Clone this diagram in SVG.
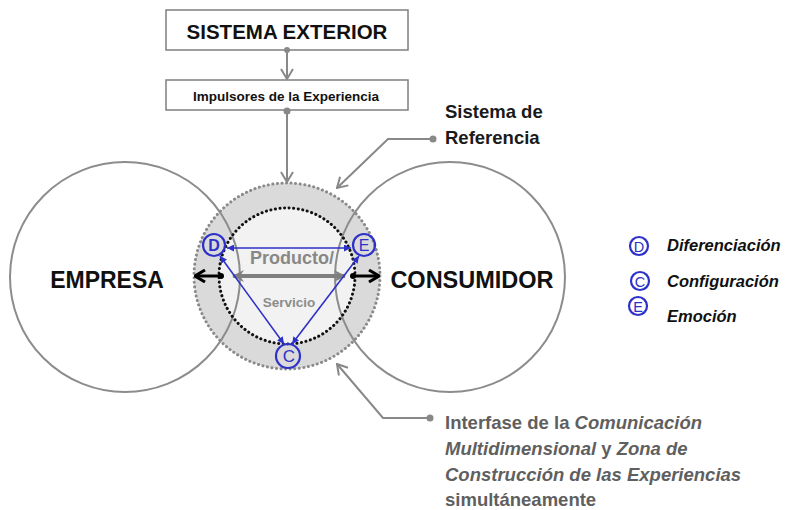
<svg xmlns="http://www.w3.org/2000/svg" width="787" height="510" viewBox="0 0 787 510">
<style>
  .box{fill:#fff;stroke:#7f7f7f;stroke-width:1.5}
  .big{fill:none;stroke:#8c8c8c;stroke-width:2}
  .lead{fill:none;stroke:#888;stroke-width:2}
  .dot{fill:#888}
  .blue{fill:none;stroke:#2e31c8;stroke-width:1.6}
  .bc{fill:none;stroke:#2e31c8;stroke-width:2.2}
  .bl{fill:#2e31c8;text-anchor:middle}
  text{font-family:"Liberation Sans",Arial,sans-serif}
  .b{font-weight:bold}
</style>
<defs>
  <marker id="chev" viewBox="0 0 12 14" refX="11" refY="7" markerWidth="12" markerHeight="14" markerUnits="userSpaceOnUse" orient="auto-start-reverse">
    <path d="M1,1 L11,7 L1,13" fill="none" stroke="#888" stroke-width="2"/>
  </marker>
  <marker id="blk" viewBox="0 0 12 14" refX="11" refY="7" markerWidth="12" markerHeight="14" markerUnits="userSpaceOnUse" orient="auto-start-reverse">
    <path d="M1,1 L11,7 L1,13" fill="none" stroke="#000" stroke-width="3"/>
  </marker>
  <marker id="gry" viewBox="0 0 12 14" refX="11" refY="7" markerWidth="12" markerHeight="14" markerUnits="userSpaceOnUse" orient="auto-start-reverse">
    <path d="M0,1 L12,7 L0,13 L4,7 Z" fill="#7f7f7f"/>
  </marker>
  <marker id="bar" viewBox="0 0 8 8" refX="8" refY="4" markerWidth="7" markerHeight="7" markerUnits="userSpaceOnUse" orient="auto-start-reverse">
    <path d="M0,0 L8,4 L0,8 Z" fill="#2e31c8"/>
  </marker>
</defs>

<!-- central zone fills -->
<g id="zona">
  <circle cx="287" cy="276" r="93" fill="#dadada"/>
  <circle cx="287" cy="276" r="68" fill="#f2f2f2"/>
</g>

<g id="empresa">
  <circle class="big" cx="125" cy="277" r="115"/>
  <text class="b" x="107" y="288" font-size="23" text-anchor="middle" fill="#111">EMPRESA</text>
</g>
<g id="consumidor">
  <circle class="big" cx="450" cy="277" r="115"/>
  <text class="b" x="472" y="288" font-size="23.5" text-anchor="middle" fill="#111">CONSUMIDOR</text>
</g>

<g id="rings">
  <circle cx="287" cy="276" r="93" fill="none" stroke="#8a8a8a" stroke-width="3" stroke-dasharray="0.1 4.5" stroke-linecap="round"/>
  <circle cx="287" cy="276" r="68" fill="none" stroke="#111" stroke-width="3" stroke-dasharray="0.1 4.5" stroke-linecap="round"/>
</g>

<g id="producto">
  <text class="b" x="292" y="264" font-size="18" text-anchor="middle" fill="#888">Producto/</text>
  <text class="b" x="289" y="307" font-size="13.5" text-anchor="middle" fill="#8c8c8c">Servicio</text>
</g>

<g id="sistema-exterior">
  <rect class="box" x="166" y="10" width="242" height="40"/>
  <text class="b" x="287" y="39" font-size="20.5" text-anchor="middle" fill="#111">SISTEMA EXTERIOR</text>
</g>
<g id="impulsores">
  <rect class="box" x="166" y="80" width="242" height="30"/>
  <text class="b" x="286" y="101" font-size="13.5" text-anchor="middle" fill="#111">Impulsores de la Experiencia</text>
</g>

<g id="sistema-referencia">
  <text class="b" font-size="18.5" fill="#1a1a1a"><tspan x="445" y="118">Sistema de</tspan><tspan x="445" y="144">Referencia</tspan></text>
</g>

<g id="interfase">
  <text class="b" font-size="18.5" fill="#5f5f5f">
    <tspan x="445" y="429">Interfase de la <tspan font-style="italic">Comunicación</tspan></tspan>
    <tspan x="445" y="455" font-style="italic">Multidimensional<tspan font-style="normal"> y </tspan>Zona de</tspan>
    <tspan x="445" y="481" font-style="italic">Construcción de las Experiencias</tspan>
    <tspan x="445" y="506">simultáneamente</tspan>
  </text>
</g>

<g id="leyenda">
  <circle class="bc" cx="639" cy="246" r="9"/><text class="bl" x="639" y="251.5" font-size="14.5">D</text>
  <text class="b" x="667" y="251" font-size="16.5" font-style="italic" fill="#111">Diferenciación</text>
  <circle class="bc" cx="640" cy="281" r="9"/><text class="bl" x="640" y="286.5" font-size="14.5">C</text>
  <text class="b" x="667" y="287" font-size="16.5" font-style="italic" fill="#111">Configuración</text>
  <circle class="bc" cx="638" cy="306" r="9"/><text class="bl" x="638" y="311.5" font-size="14.5">E</text>
  <text class="b" x="667" y="322" font-size="16.5" font-style="italic" fill="#111">Emoción</text>
</g>

<g id="connectors">
  <!-- vertical leaders -->
  <line class="lead" x1="287" y1="50" x2="287" y2="79" marker-end="url(#chev)"/>
  <circle class="dot" cx="287" cy="50" r="3"/>
  <line class="lead" x1="287" y1="111" x2="287" y2="182" marker-end="url(#chev)"/>
  <circle class="dot" cx="287" cy="111" r="3.5"/>
  <!-- callouts -->
  <polyline class="lead" points="433,139 388,139 337,188" marker-end="url(#chev)"/>
  <circle class="dot" cx="433" cy="139" r="3.5"/>
  <polyline class="lead" points="430,418 383,418 337,364" marker-end="url(#chev)"/>
  <circle class="dot" cx="430" cy="418" r="3.5"/>
  <!-- black exchange arrows -->
  <line x1="221" y1="276" x2="195" y2="276" stroke="#000" stroke-width="3" marker-end="url(#blk)"/>
  <line x1="353" y1="276" x2="379" y2="276" stroke="#000" stroke-width="3" marker-end="url(#blk)"/>
  <circle cx="221" cy="276" r="3" fill="#000"/>
  <circle cx="353" cy="276" r="3" fill="#000"/>
  <!-- gray product arrow -->
  <line x1="233" y1="276" x2="345" y2="276" stroke="#7f7f7f" stroke-width="4" marker-start="url(#gry)" marker-end="url(#gry)"/>
  <!-- blue triangle -->
  <line class="blue" x1="227" y1="248" x2="351" y2="248" marker-start="url(#bar)" marker-end="url(#bar)"/>
  <line class="blue" x1="220" y1="256" x2="284" y2="344" marker-start="url(#bar)" marker-end="url(#bar)"/>
  <line class="blue" x1="359" y1="256" x2="292" y2="344" marker-start="url(#bar)" marker-end="url(#bar)"/>
</g>

<g id="D">
  <circle class="bc" cx="214" cy="245" r="11"/>
  <text class="bl b" x="214" y="251" font-size="16">D</text>
</g>
<g id="E">
  <circle class="bc" cx="364" cy="245" r="11"/>
  <text class="bl" x="364" y="251" font-size="16">E</text>
</g>
<g id="C">
  <circle class="bc" cx="288" cy="356" r="12"/>
  <text class="bl" x="289" y="362" font-size="17">C</text>
</g>
</svg>
